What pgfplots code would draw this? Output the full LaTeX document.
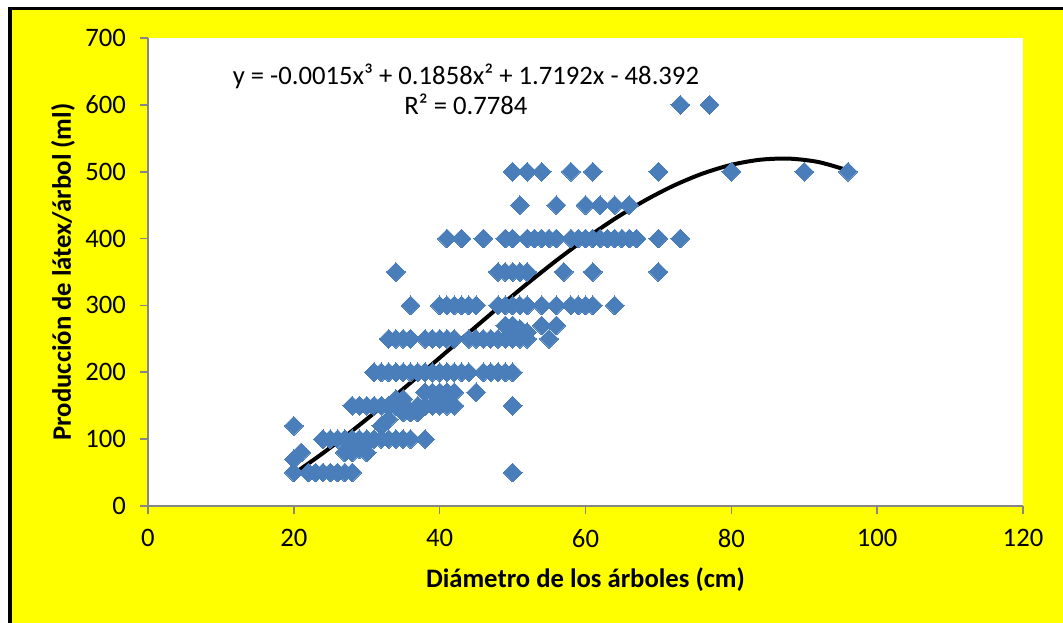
\documentclass[border=0pt]{standalone}
\usepackage{pgfplots}
\pgfplotsset{compat=1.18}
\usepackage{fontspec}
\setmainfont{Carlito}
\definecolor{mk}{HTML}{4A7EBB}
\definecolor{ax}{HTML}{868686}
\definecolor{bg}{HTML}{FFFF00}
\pgfplotstableread{
x y
20 50
22 50
23 50
24 50
25 50
26 50
27 50
28 50
50 50
20 70
21 80
27 80
28 80
29 85
30 80
28 90
30 95
24 100
25 100
26 100
27 100
28 100
29 100
30 100
31 100
32 100
33 100
34 100
35 100
36 100
38 100
20 120
32 120
33 130
35 140
36 140
37 140
28 150
29 150
30 150
31 150
32 150
33 150
34 150
35 150
37 150
38 150
39 150
40 150
41 150
42 150
50 150
34 160
35 160
40 160
41 160
38 170
39 170
40 170
41 170
42 170
45 170
31 200
32 200
33 200
34 200
35 200
36 200
37 200
38 200
39 200
40 200
41 200
42 200
43 200
44 200
46 200
47 200
48 200
49 200
50 200
33 250
34 250
35 250
36 250
38 250
39 250
40 250
41 250
42 250
44 250
45 250
46 250
47 250
48 250
49 250
50 250
51 250
52 250
55 250
50 260
52 260
49 270
50 270
51 265
54 270
56 270
36 300
40 300
41 300
42 300
43 300
44 300
45 300
48 300
49 300
50 300
51 300
52 300
54 300
56 300
58 300
59 300
60 300
61 300
64 300
34 350
48 350
49 350
50 350
51 350
52 350
57 350
61 350
70 350
41 400
43 400
46 400
49 400
50 400
52 400
53 400
54 400
55 400
56 400
58 400
59 400
60 400
61 400
62 400
63 400
64 400
65 400
66 400
67 400
70 400
73 400
51 450
56 450
60 450
62 450
64 450
66 450
50 500
52 500
54 500
58 500
61 500
70 500
80 500
90 500
96 500
73 600
77 600
}\scatterdata
\pgfplotstableread{
x y
20 48.31
24 79.15
28 112.49
32 147.73
36 184.31
40 221.66
44 259.19
48 296.33
52 332.50
56 367.13
60 399.64
64 429.46
68 456.01
72 478.71
76 496.98
80 510.26
84 517.97
88 519.53
92 514.35
96 501.88
}\trenddata
\begin{document}
\begin{tikzpicture}
\fill[white] (-111pt,-87.75pt) rectangle (686.25pt,379.5pt);
\fill[bg] (-102pt,-87.75pt) rectangle (686.25pt,372pt);
\fill[black] (-105pt,-87.75pt) rectangle (-102pt,374.5pt);
\fill[black] (-105pt,372pt) rectangle (686.25pt,374.5pt);
\begin{axis}[
  at={(0,0)}, anchor=south west,
  scale only axis, width=656.25pt, height=351pt,
  xmin=0, xmax=120, ymin=0, ymax=700,
  xtick={0,20,...,120}, ytick={0,100,...,700},
  axis background/.style={fill=white},
  axis x line=bottom, axis y line=left,
  axis line style={-, ax, line width=1.2pt},
  tick style={ax, line width=1.2pt},
  tick align=outside, major tick length=6pt,
  ticklabel style={font=\fontsize{20}{24}\selectfont, text=black},
  xticklabel style={yshift=-8pt},
  yticklabel style={xshift=-7pt},
  /pgf/number format/assume math mode=true,
  xlabel={\textbf{Diámetro de los árboles (cm)}},
  ylabel={\textbf{Producción de látex/árbol (ml)}},
  xlabel style={font=\fontsize{20}{24}\selectfont, at={(axis description cs:0.5,-0.158)}, anchor=center},
  ylabel style={font=\fontsize{20}{24}\selectfont, at={(axis description cs:-0.0971,0.5)}, anchor=center},
  clip=false,
]
\addplot[only marks, mark=square*, mark size=5pt, mark options={rotate=45, fill=mk, draw=mk, line width=0pt}] table[x=x,y=y] {\scatterdata};
\addplot[black, line width=3pt, smooth] table[x=x,y=y] {\trenddata};
\node[align=center, font=\fontsize{20}{22.5}\selectfont] at (axis cs:43.6,623) {y = -0.0015x³ + 0.1858x² + 1.7192x - 48.392\\R² = 0.7784};
\end{axis}
\end{tikzpicture}
\end{document}
